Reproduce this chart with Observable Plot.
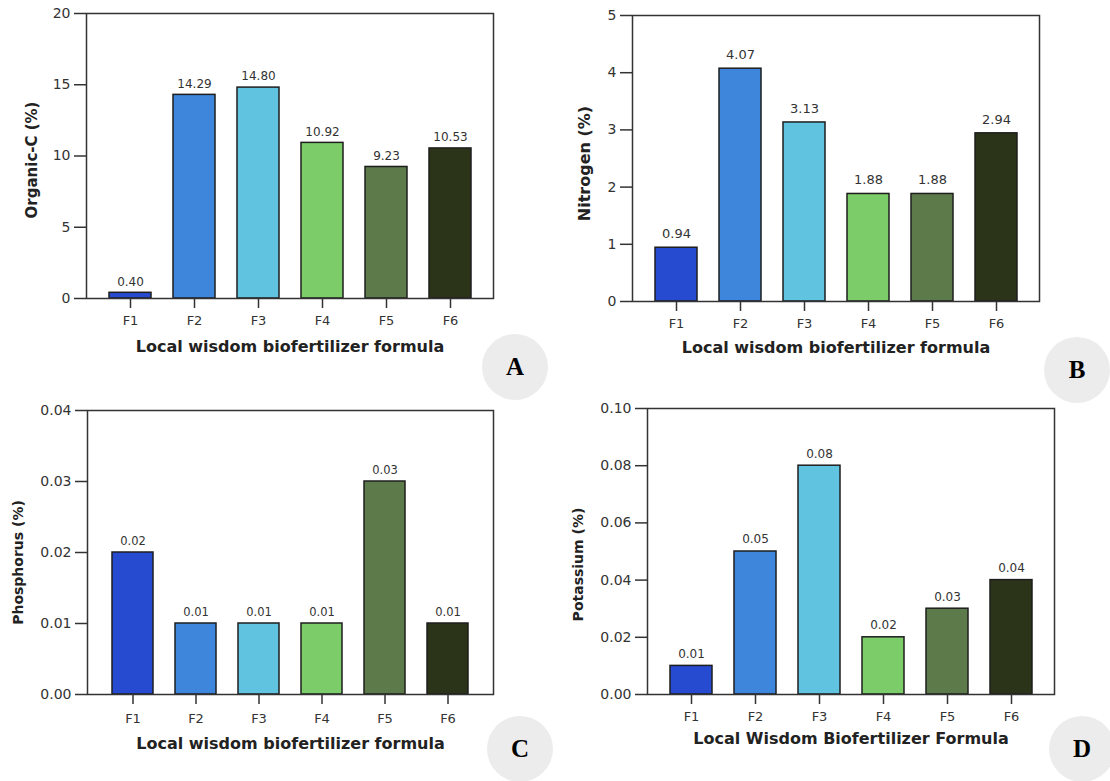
<!DOCTYPE html>
<html>
<head>
<meta charset="utf-8">
<script src="https://cdn.jsdelivr.net/npm/d3@7"></script>
<script src="https://cdn.jsdelivr.net/npm/@observablehq/plot@0.6"></script>
<style>
  html, body { margin: 0; padding: 0; background: #ffffff; }
  #chart { position: relative; width: 1110px; height: 781px; background: #ffffff; overflow: hidden; }
  .panel { position: absolute; }
  .badge { position: absolute; border-radius: 50%; background: #ececec;
           display: flex; align-items: center; justify-content: center;
           font-family: "Liberation Serif", "DejaVu Serif", serif; font-weight: bold; font-size: 25px; color: #000; }
</style>
</head>
<body>
<div id="chart"></div>
<script>
// ---- Data ----
const formulas = ["F1", "F2", "F3", "F4", "F5", "F6"];
const barColors = ["#274bd0", "#3d86dc", "#60c3e0", "#7dcc6a", "#5d7b4a", "#2b3319"];

const organicC   = [0.40, 14.29, 14.80, 10.92, 9.23, 10.53];
const nitrogen   = [0.94, 4.07, 3.13, 1.88, 1.88, 2.94];
const phosphorus = [0.02, 0.01, 0.01, 0.01, 0.03, 0.01];
const potassium  = [0.01, 0.05, 0.08, 0.02, 0.03, 0.04];

const organicCTicks   = [0, 5, 10, 15, 20];
const nitrogenTicks   = [0, 1, 2, 3, 4, 5];
const phosphorusTicks = [0, 0.01, 0.02, 0.03, 0.04];
const potassiumTicks  = [0, 0.02, 0.04, 0.06, 0.08, 0.10];

const yTitles = ["Organic-C (%)", "Nitrogen (%)", "Phosphorus (%)", "Potassium (%)"];
const xTitles = ["Local wisdom biofertilizer formula", "Local wisdom biofertilizer formula",
                 "Local wisdom biofertilizer formula", "Local Wisdom Biofertilizer Formula"];
const panelLetters = ["A", "B", "C", "D"];

// ---- Layout ----
const panels = [
  {values: organicC, ticks: organicCTicks, fmt: d3.format("d"),
   left: 0, top: 0, w: 555, h: 390, mL: 86, mR: 62, mT: 13, mB: 92,
   tickPad: 7, valFont: 12, valDy: -11, titleDy: 48, yDx: -54, yDy: 4, yFont: 15,
   badge: [515, 367]},
  {values: nitrogen, ticks: nitrogenTicks, fmt: d3.format("d"),
   left: 555, top: 0, w: 555, h: 390, mL: 77, mR: 71, mT: 15, mB: 89,
   tickPad: 7, valFont: 13, valDy: -14, titleDy: 46, yDx: -48, yDy: 5, yFont: 16,
   badge: [1077, 370]},
  {values: phosphorus, ticks: phosphorusTicks, fmt: d3.format(".2f"),
   left: 0, top: 390, w: 555, h: 391, mL: 87, mR: 62, mT: 20, mB: 87,
   tickPad: 9, valFont: 11.5, valDy: -11, titleDy: 49, yDx: -69, yDy: 10, yFont: 14,
   badge: [520, 749]},
  {values: potassium, ticks: potassiumTicks, fmt: d3.format(".2f"),
   left: 555, top: 390, w: 555, h: 391, mL: 92, mR: 56, mT: 18, mB: 87,
   tickPad: 7, valFont: 12, valDy: -12, titleDy: 44, yDx: -69, yDy: 13, yFont: 14,
   badge: [1082, 749]}
];

const chart = document.getElementById("chart");

panels.forEach((p, i) => {
  const rows = formulas.map((f, j) => ({f, v: p.values[j]}));
  const svg = Plot.plot({
    width: p.w, height: p.h,
    marginLeft: p.mL, marginRight: p.mR, marginTop: p.mT, marginBottom: p.mB,
    style: {fontFamily: "DejaVu Sans", color: "#333", background: "transparent", overflow: "visible"},
    x: {domain: formulas, paddingInner: 0.344, paddingOuter: 0.35},
    y: {domain: [0, d3.max(p.ticks)]},
    color: {domain: formulas, range: barColors},
    marks: [
      Plot.barY(rows, {x: "f", y: "v", fill: "f", stroke: "#1e1e1e", strokeWidth: 1.5}),
      Plot.frame({stroke: "#333", strokeWidth: 1.5}),
      Plot.axisY({ticks: p.ticks, tickFormat: p.fmt, tickSize: 12, tickPadding: 4,
                  fontSize: 14, label: null, strokeWidth: 1.5}),
      Plot.axisX({tickSize: 10, tickPadding: p.tickPad, fontSize: 13, label: null, strokeWidth: 1.5}),
      Plot.text(rows, {x: "f", y: "v", text: d => d.v.toFixed(2), dy: p.valDy,
                       lineAnchor: "middle", fontSize: p.valFont, fill: "#333"}),
      Plot.text([xTitles[i]], {text: d => d, frameAnchor: "bottom", dy: p.titleDy,
                       lineAnchor: "middle", fontWeight: "bold", fontSize: 16, fill: "#222"}),
      Plot.text([yTitles[i]], {text: d => d, frameAnchor: "left", dx: p.yDx, dy: p.yDy,
                       rotate: -90, lineAnchor: "middle", textAnchor: "middle",
                       fontWeight: "bold", fontSize: p.yFont, fill: "#222"})
    ]
  });
  const wrap = document.createElement("div");
  wrap.className = "panel";
  wrap.style.left = p.left + "px";
  wrap.style.top = p.top + "px";
  wrap.appendChild(svg);
  chart.appendChild(wrap);

  const r = 33;
  const b = document.createElement("div");
  b.className = "badge";
  b.style.left = (p.badge[0] - r) + "px";
  b.style.top = (p.badge[1] - r) + "px";
  b.style.width = (2 * r) + "px";
  b.style.height = (2 * r) + "px";
  b.textContent = panelLetters[i];
  chart.appendChild(b);
});
</script>
</body>
</html>
